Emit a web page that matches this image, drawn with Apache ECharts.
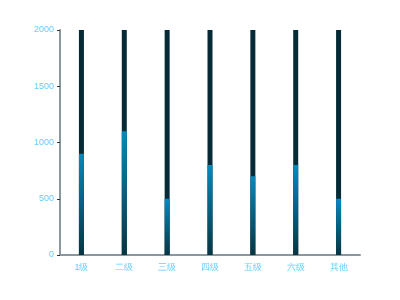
<!DOCTYPE html>
<html><head><meta charset="utf-8">
<script src="https://cdn.jsdelivr.net/npm/echarts@6/dist/echarts.min.js"></script>
<style>html,body{margin:0;padding:0;background:#fff}#c{width:400px;height:300px}</style>
</head><body><div id="c"></div>
<script>
var categories = ['1级','二级','三级','四级','五级','六级','其他'];
var values = [900, 1100, 500, 800, 700, 800, 500];
var maxValues = [2000, 2000, 2000, 2000, 2000, 2000, 2000];
var yTicks = [0, 500, 1000, 1500, 2000];
var chart = echarts.init(document.getElementById('c'));
chart.setOption({
  animation: false,
  grid: {left: 60, right: 40, top: 30, bottom: 45},
  xAxis: {
    type: 'category', data: categories,
    axisLine: {lineStyle: {color: '#8a979e', width: 2}},
    axisTick: {show: false},
    axisLabel: {color: '#66ccff', fontSize: 9, margin: 8}
  },
  yAxis: {
    type: 'value', min: yTicks[0], max: yTicks[yTicks.length-1], interval: 500,
    axisLine: {show: true, lineStyle: {color: '#8a979e', width: 2}},
    axisTick: {show: true, length: 3, lineStyle: {color: '#333'}},
    splitLine: {show: false},
    axisLabel: {color: '#66ccff', fontSize: 9, margin: 6, formatter: function (v) { return String(v); }}
  },
  series: [
    {type: 'bar', data: maxValues, barWidth: 5, barGap: '-100%',
     itemStyle: {color: '#062a36'}, silent: true},
    {type: 'bar', data: values, barWidth: 5,
     itemStyle: {color: new echarts.graphic.LinearGradient(0,0,0,1,[
       {offset: 0, color: '#0689bd'}, {offset: 1, color: '#073542'}])}}
  ]
});
</script></body></html>
